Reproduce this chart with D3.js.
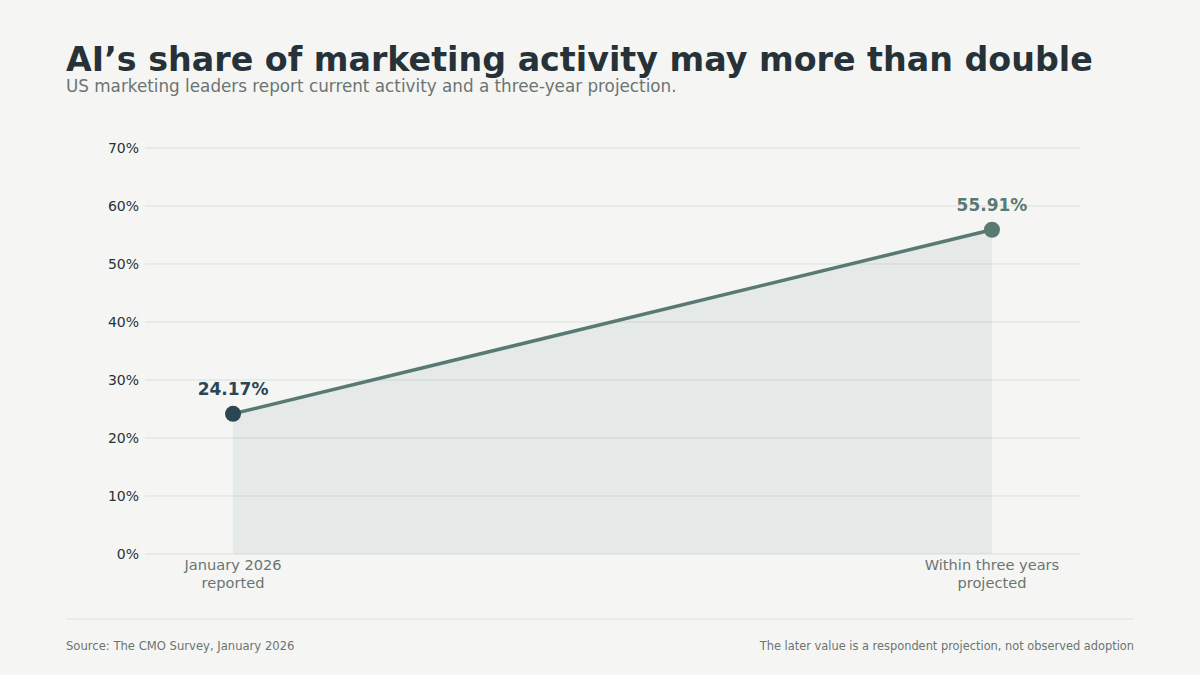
<!DOCTYPE html>
<html><head><meta charset="utf-8">
<script src="https://cdn.jsdelivr.net/npm/d3@7"></script>
<style>body{margin:0;background:#f5f6f4;}svg{display:block;font-family:"DejaVu Sans",sans-serif;}</style>
</head><body><svg id="c" width="1200" height="675"></svg>
<script>
const categories = ["January 2026|reported", "Within three years|projected"];
const values = [24.17, 55.91];
const yTicks = [0,10,20,30,40,50,60,70];

const svg = d3.select("#c");
svg.append("rect").attr("width",1200).attr("height",675).attr("fill","#f5f6f4");
const L=145,R=1080,T=148,B=554;
const x = d3.scalePoint().domain(categories).range([L,R]).padding(0.116);
const y = d3.scaleLinear().domain([0,70]).range([B,T]);

svg.append("text").attr("x",66).attr("y",71).attr("font-size",33.3).attr("font-weight","bold").attr("fill","#263238").text("AI’s share of marketing activity may more than double");
svg.append("text").attr("x",66).attr("y",92).attr("font-size",16.8).attr("fill","#6b7472").text("US marketing leaders report current activity and a three-year projection.");

const g = svg.append("g");
g.selectAll("line.grid").data(yTicks).join("line").attr("x1",L).attr("x2",R)
 .attr("y1",d=>y(d)).attr("y2",d=>y(d)).attr("stroke","#dcdfdc").attr("stroke-width",1);
g.selectAll("text.yt").data(yTicks).join("text").attr("x",139).attr("y",d=>y(d)+5)
 .attr("text-anchor","end").attr("font-size",14).attr("fill","#263238").text(d=>d+"%");

const data = categories.map((c,i)=>({c,v:values[i]}));
g.append("path").datum(data).attr("fill","#587a72").attr("fill-opacity",0.1)
 .attr("d",d3.area().x(d=>x(d.c)).y0(y(0)).y1(d=>y(d.v)));
g.append("path").datum(data).attr("fill","none").attr("stroke","#587a72").attr("stroke-width",3.5)
 .attr("d",d3.line().x(d=>x(d.c)).y(d=>y(d.v)));
const cols=["#2c4653","#587a72"];
g.selectAll("circle").data(data).join("circle").attr("cx",d=>x(d.c)).attr("cy",d=>y(d.v)).attr("r",8)
 .attr("fill",(d,i)=>cols[i]);
g.selectAll("text.lab").data(data).join("text").attr("x",d=>x(d.c)).attr("y",d=>y(d.v)-19)
 .attr("text-anchor","middle").attr("font-size",17).attr("font-weight","bold").attr("fill",(d,i)=>cols[i])
 .text(d=>d.v.toFixed(2)+"%");
data.forEach(d=>{
  const parts=d.c.split("|");
  parts.forEach((p,j)=>g.append("text").attr("x",x(d.c)).attr("y",570+j*18).attr("text-anchor","middle")
   .attr("font-size",14.6).attr("fill","#6b7472").text(p));
});

svg.append("line").attr("x1",66).attr("x2",1134).attr("y1",619).attr("y2",619).attr("stroke","#e0e3e0");
svg.append("text").attr("x",66).attr("y",650).attr("font-size",11.6).attr("fill","#6b7472").text("Source: The CMO Survey, January 2026");
svg.append("text").attr("x",1134).attr("y",650).attr("text-anchor","end").attr("font-size",11.4).attr("fill","#6b7472").text("The later value is a respondent projection, not observed adoption");
</script></body></html>
